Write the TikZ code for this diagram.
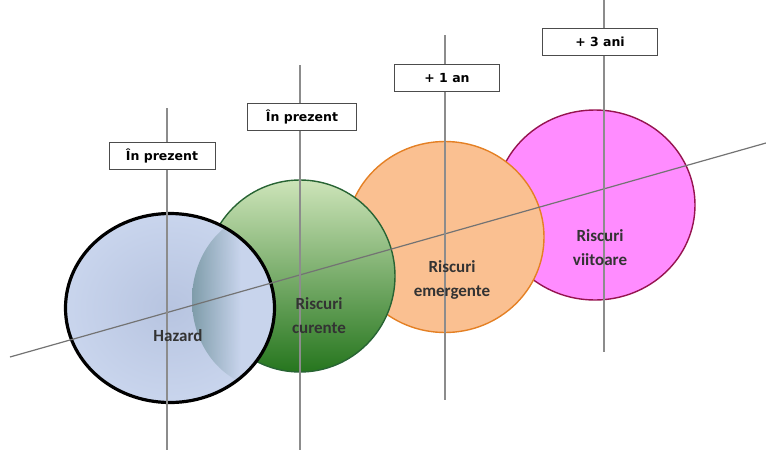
\documentclass[tikz,border=0pt]{standalone}
\usepackage{fontspec}
\setmainfont{Carlito}
\newfontfamily\tagfont{DejaVu Sans}
\usepackage{tikz}
\usetikzlibrary{shapes.geometric,shadings}
\definecolor{hazardblue}{RGB}{201,213,237}
\definecolor{hazardcore}{RGB}{183,196,224}
\definecolor{currlight}{RGB}{205,228,185}
\definecolor{currdark}{RGB}{38,118,30}
\definecolor{currborder}{RGB}{40,100,52}
\definecolor{emergfill}{RGB}{250,192,145}
\definecolor{emergborder}{RGB}{228,128,36}
\definecolor{futfill}{RGB}{255,140,255}
\definecolor{futborder}{RGB}{150,20,80}
\definecolor{crescent}{RGB}{112,146,156}
\pgfdeclarehorizontalshading{crescentshade}{100bp}{color(0bp)=(crescent); color(25bp)=(crescent); color(41bp)=(hazardblue); color(100bp)=(hazardblue)}

\begin{document}
\begin{tikzpicture}[x=1pt, y=-1pt,
    riskzone/.style={ellipse, inner sep=0pt, line width=1.4pt},
    timeline/.style={draw=black!45, line width=1.4pt},
    yeartag/.style={draw=black!70, fill=white, line width=0.8pt, minimum height=27pt,
        inner sep=0pt, font=\tagfont\bfseries\fontsize{12.5}{14}\selectfont},
    zonetext/.style={align=center, text=black!80, font=\bfseries\fontsize{17}{24}\selectfont}]
    \useasboundingbox (0,0) rectangle (766,450);

    % Risk zones, back to front
    \node[riskzone, draw=futborder, fill=futfill, minimum width=200pt, minimum height=190pt] (future) at (595,205) {};
    \node[riskzone, draw=emergborder, fill=emergfill, minimum width=198pt, minimum height=191pt] (emerging) at (445,237) {};
    \node[riskzone, draw=currborder, top color=currlight, bottom color=currdark, minimum width=190pt, minimum height=192pt] (current) at (300,276) {};
    \node[riskzone, draw=black, line width=2.2pt, inner color=hazardcore, outer color=hazardblue, minimum width=210pt, minimum height=190pt] (hazard) at (170,308) {};

    % Shadow of the green zone on the hazard
    \begin{scope}
        \clip (170,308) ellipse [x radius=104pt, y radius=94pt];
        \shade[shading=crescentshade, opacity=0.8] (268,300) ellipse [x radius=76pt, y radius=88pt];
    \end{scope}
    \draw[black, line width=2.2pt] (170,308) ellipse [x radius=104pt, y radius=94pt];

    % Time axis
    \coordinate (axisstart) at (10,357);
    \coordinate (axisend) at (766,143);
    \draw[draw=black!55, line width=1.2pt] (axisstart) -- (axisend);

    % Vertical markers
    \coordinate (top1) at (167,108);  \coordinate (bot1) at (167,450);
    \coordinate (top2) at (300,65);   \coordinate (bot2) at (300,450);
    \coordinate (top3) at (445,35);   \coordinate (bot3) at (445,400);
    \coordinate (top4) at (604,0);    \coordinate (bot4) at (604,352);
    \foreach \i in {1,...,4}
        \draw[timeline] (top\i) -- (bot\i);

    % Time tags
    \node[yeartag, minimum width=106pt] (tag1) at (162,156) {În prezent};
    \node[yeartag, minimum width=109pt] (tag2) at (302,117) {În prezent};
    \node[yeartag, minimum width=105pt] (tag3) at (447,78) {+ 1 an};
    \node[yeartag, minimum width=115pt] (tag4) at (600,42) {+ 3 ani};

    % Zone labels
    \node[zonetext] (hazardtext) at (178,336) {Hazard};
    \node[zonetext] (currenttext) at (319,316) {Riscuri\\curente};
    \node[zonetext] (emergingtext) at (452,280) {Riscuri\\emergente};
    \node[zonetext] (futuretext) at (600,248) {Riscuri\\viitoare};
\end{tikzpicture}
\end{document}
